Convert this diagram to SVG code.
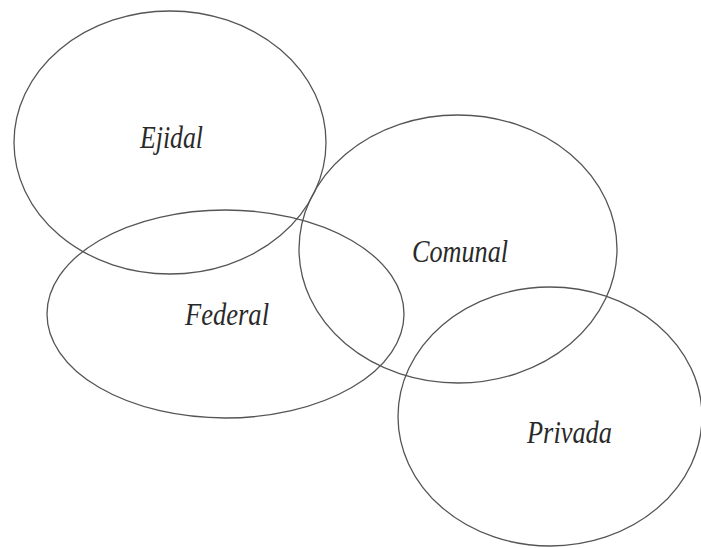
<svg xmlns="http://www.w3.org/2000/svg" width="701" height="548" viewBox="0 0 701 548">
<style>
.set{fill:none;stroke:#555;stroke-width:1.3}
.lbl{font-family:"Liberation Serif","Times New Roman",serif;font-style:italic;font-size:32px;fill:#2a2a2a}
</style>
<rect width="701" height="548" fill="#fff"/>
<g id="ejidal"><ellipse class="set" cx="170" cy="142.5" rx="156" ry="131.5"/><text class="lbl" x="140" y="148" textLength="63" lengthAdjust="spacingAndGlyphs">Ejidal</text></g>
<g id="federal"><ellipse class="set" cx="225.5" cy="314" rx="178.5" ry="104"/><text class="lbl" x="185" y="325" textLength="84" lengthAdjust="spacingAndGlyphs">Federal</text></g>
<g id="comunal"><ellipse class="set" cx="458" cy="249" rx="159" ry="134"/><text class="lbl" x="412" y="262" textLength="96" lengthAdjust="spacingAndGlyphs">Comunal</text></g>
<g id="privada"><ellipse class="set" cx="550" cy="416.5" rx="152" ry="129.5"/><text class="lbl" x="527" y="443" textLength="85" lengthAdjust="spacingAndGlyphs">Privada</text></g>
<g id="connectors"></g>
</svg>
